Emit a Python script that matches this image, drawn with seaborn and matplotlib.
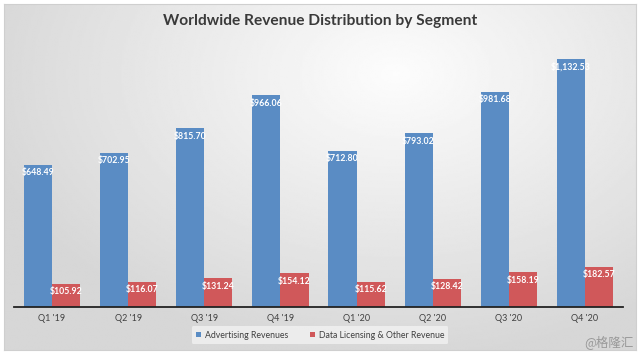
import numpy as np
import pandas as pd
import seaborn as sns
import matplotlib.pyplot as plt

quarters = ["Q1 '19", "Q2 '19", "Q3 '19", "Q4 '19", "Q1 '20", "Q2 '20", "Q3 '20", "Q4 '20"]
advertising = [648.49, 702.95, 815.70, 966.06, 712.80, 793.02, 981.68, 1132.53]
data_licensing = [105.92, 116.07, 131.24, 154.12, 115.62, 128.42, 158.19, 182.57]
segments = ["Advertising Revenues", "Data Licensing & Other Revenue"]

df = pd.DataFrame({
    "quarter": quarters * 2,
    "segment": [segments[0]] * len(quarters) + [segments[1]] * len(quarters),
    "value": advertising + data_licensing,
})

sns.set_theme(style="white")
plt.rcParams['font.family'] = ['Lato', 'DejaVu Sans']

blue = "#5a8cc4"
red = "#d0585a"

fig = plt.figure(figsize=(6.4, 3.57), dpi=100, facecolor="white")

# gradient panel behind the chart
bg = fig.add_axes([4 / 640, 7 / 357, 632 / 640, 346 / 357], zorder=-1)
yy, xx = np.mgrid[0:1:200j, 0:1:360j]
d = np.sqrt(((xx - 0.62) * 1.1) ** 2 + ((yy - 0.2) * 0.9) ** 2)
shade = np.clip(0.99 - 0.2 * d, 0.84, 1.0)
bg.imshow(shade, cmap="gray", vmin=0, vmax=1, aspect="auto", interpolation="bilinear")
bg.set_xticks([])
bg.set_yticks([])
for s in bg.spines.values():
    s.set_color("#cfcfcf")
    s.set_linewidth(0.8)

ax = fig.add_axes([14 / 640, 50 / 357, 609 / 640, 263 / 357])
ax.patch.set_alpha(0)
sns.barplot(data=df, x="quarter", y="value", hue="segment", palette=[blue, red],
            width=0.74, gap=0, saturation=1, errorbar=None, linewidth=0, ax=ax)

for cont in ax.containers:
    ax.bar_label(cont, labels=[f"${v:,.2f}" for v in cont.datavalues],
                 padding=-9, color="white", fontsize=6.3, fontweight="bold")

ax.set_ylim(0, 1200)
ax.set_xlim(-0.5, 7.5)
ax.set_xlabel("")
ax.set_ylabel("")
ax.set_yticks([])
ax.tick_params(axis="x", labelsize=6.5, colors="#404040", length=0, pad=5)
for side in ["top", "right", "left"]:
    ax.spines[side].set_visible(False)
ax.spines["bottom"].set_color("#222222")
ax.spines["bottom"].set_linewidth(1.3)

ax.legend(loc="center", bbox_to_anchor=(0.5, 22 / 357), bbox_transform=fig.transFigure,
          ncol=2, fontsize=6.3, frameon=True, facecolor="#f2f2f2", edgecolor="none",
          framealpha=0.8, handlelength=0.6, handleheight=0.6, columnspacing=2.5,
          handletextpad=0.4, borderpad=0.5, labelcolor="#404040")

fig.text(0.5, 1 - 21 / 357, "Worldwide Revenue Distribution by Segment", ha="center",
         va="center", fontsize=11.2, fontweight="bold", color="#3a3a3a")
fig.text(634 / 640, 1 - 342 / 357, "@格隆汇", ha="right", va="center", fontsize=9,
         color="#999999", family=["Noto Sans CJK SC", "DejaVu Sans"])

fig.savefig("out.png", dpi=100, facecolor="white")
